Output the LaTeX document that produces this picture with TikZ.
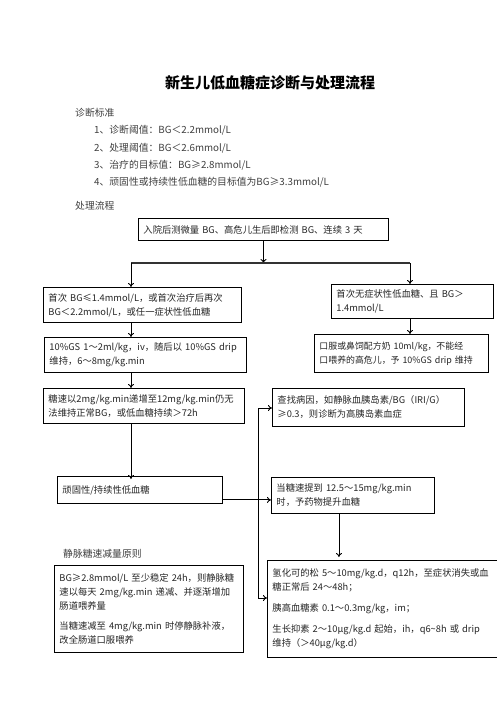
\documentclass[tikz,border=0pt]{standalone}
\usepackage{fontspec}
\setmainfont{Noto Sans CJK SC}
\usetikzlibrary{arrows.meta}
\newcommand\bodyfs{\fontsize{9.3}{14}\selectfont}
\newcommand\oneline[1]{\mbox{#1}}
\begin{document}
\begin{tikzpicture}[x=1pt,y=-1pt,
  box/.style={draw, line width=0.9pt, anchor=north west, align=left,
    inner xsep=5pt, inner ysep=2pt, font=\bodyfs, text=black!85},
  lbl/.style={anchor=west, inner sep=0pt, font=\fontsize{9.8}{14}\selectfont, text=black!75},
  arr/.style={-{To[length=4pt,width=6pt]}, line width=0.9pt},
  ln/.style={line width=0.9pt}]
\useasboundingbox (0,0) rectangle (496,702);
\fill[white] (0,0) rectangle (496,702);

\node[anchor=center, inner sep=0pt, font=\fontsize{15}{18}\selectfont\bfseries] (title) at (270,83) {新生儿低血糖症诊断与处理流程};
\node[lbl] (crit) at (75,113) {诊断标准};
\node[lbl] (c1) at (94,130) {1、诊断阈值：BG＜2.2mmol/L};
\node[lbl] (c2) at (94,148) {2、处理阈值：BG＜2.6mmol/L};
\node[lbl] (c3) at (94,165) {3、治疗的目标值：BG≥2.8mmol/L};
\node[lbl] (c4) at (94,182) {4、顽固性或持续性低血糖的目标值为BG≥3.3mmol/L};
\node[lbl] (proc) at (75,206) {处理流程};

\node[box, minimum width=250, minimum height=22, text width=240] (A) at (138,218) {\oneline{入院后测微量 BG、高危儿生后即检测 BG、连续 3 天}};
\coordinate (bl) at (131,263);
\coordinate (brr) at (410,263);
\node[box, minimum width=198, minimum height=35, text width=188] (B1) at (43,287) {\oneline{首次 BG≤1.4mmol/L，或首次治疗后再次}\\\oneline{BG＜2.2mmol/L，或任一症状性低血糖}};
\node[box, minimum width=162, minimum height=34, text width=152] (B2) at (331,284) {\oneline{首次无症状性低血糖、且 BG＞}\\\oneline{1.4mmol/L}};
\node[box, minimum width=202, minimum height=35, text width=192] (C1) at (44,337) {\oneline{10\%GS 1～2ml/kg，iv，随后以 10\%GS drip}\\\oneline{维持，6～8mg/kg.min}};
\node[box, minimum width=174, minimum height=38, text width=164, font=\fontsize{8.9}{14}\selectfont] (C2) at (314,334) {\oneline{口服或鼻饲配方奶 10ml/kg，不能经}\\\oneline{口喂养的高危儿，予 10\%GS drip 维持}};
\node[box, minimum width=201, minimum height=35, text width=191] (D1) at (43,388) {\oneline{糖速以2mg/kg.min递增至12mg/kg.min仍无}\\\oneline{法维持正常BG，或低血糖持续＞72h}};
\node[box, minimum width=192, minimum height=38, text width=182] (F) at (272,388) {\oneline{查找病因，如静脉血胰岛素/BG（IRI/G）}\\\oneline{≥0.3，则诊断为高胰岛素血症}};
\node[box, minimum width=165, minimum height=27, text width=155] (E1) at (57,476) {\oneline{顽固性/持续性低血糖}};
\node[box, minimum width=163, minimum height=36, text width=153] (G) at (271,477) {\oneline{当糖速提到 12.5～15mg/kg.min}\\\oneline{时，予药物提升血糖}};
\node[lbl] (red) at (63,554) {静脉糖速减量原则};
\node[box, minimum width=189, minimum height=87, text width=179] (I) at (54,565) {\oneline{BG≥2.8mmol/L 至少稳定 24h，则静脉糖}\\\oneline{速以每天 2mg/kg.min 递减、并逐渐增加}\\\oneline{肠道喂养量}\\[6pt]\oneline{当糖速减至 4mg/kg.min 时停静脉补液，}\\\oneline{改全肠道口服喂养}};
\node[box, minimum width=236, minimum height=97, text width=226] (H) at (267,560) {\oneline{氢化可的松 5～10mg/kg.d，q12h，至症状消失或血}\\\oneline{糖正常后 24～48h；}\\[7pt]\oneline{胰高血糖素 0.1～0.3mg/kg，im；}\\[7pt]\oneline{生长抑素 2～10μg/kg.d 起始，ih，q6\textasciitilde8h 或 drip}\\\oneline{维持（＞40μg/kg.d）}};

\draw[arr] (A.south) -- (A.south |- bl);
\draw[line width=1.6pt, black!80] (bl) -- (brr);
\draw[arr] (bl) -- (bl |- B1.north);
\draw[arr] (brr) -- (brr |- B2.north);
\draw[arr] (bl |- B1.south) -- (bl |- C1.north);
\draw[arr] (brr |- B2.south) -- (brr |- C2.north);
\draw[arr] (bl |- C1.south) -- (bl |- D1.north);
\draw[arr] (bl |- D1.south) -- ([yshift=-3pt]bl |- E1.north);
\coordinate (vt) at (258,408);
\coordinate (vb) at (258,598);
\coordinate (eo) at ([yshift=4pt]E1.south east);
\draw[ln] (vt) -- (vb);
\draw[arr] (vt) -- (vt -| F.west);
\draw[arr] (vb) -- (vb -| H.west);
\draw[arr] (eo) -- (eo -| G.west);
\coordinate (gs) at ([xshift=-14pt]G.south);
\draw[arr] (gs) -- ([yshift=3pt]gs |- H.north);
\end{tikzpicture}
\end{document}
